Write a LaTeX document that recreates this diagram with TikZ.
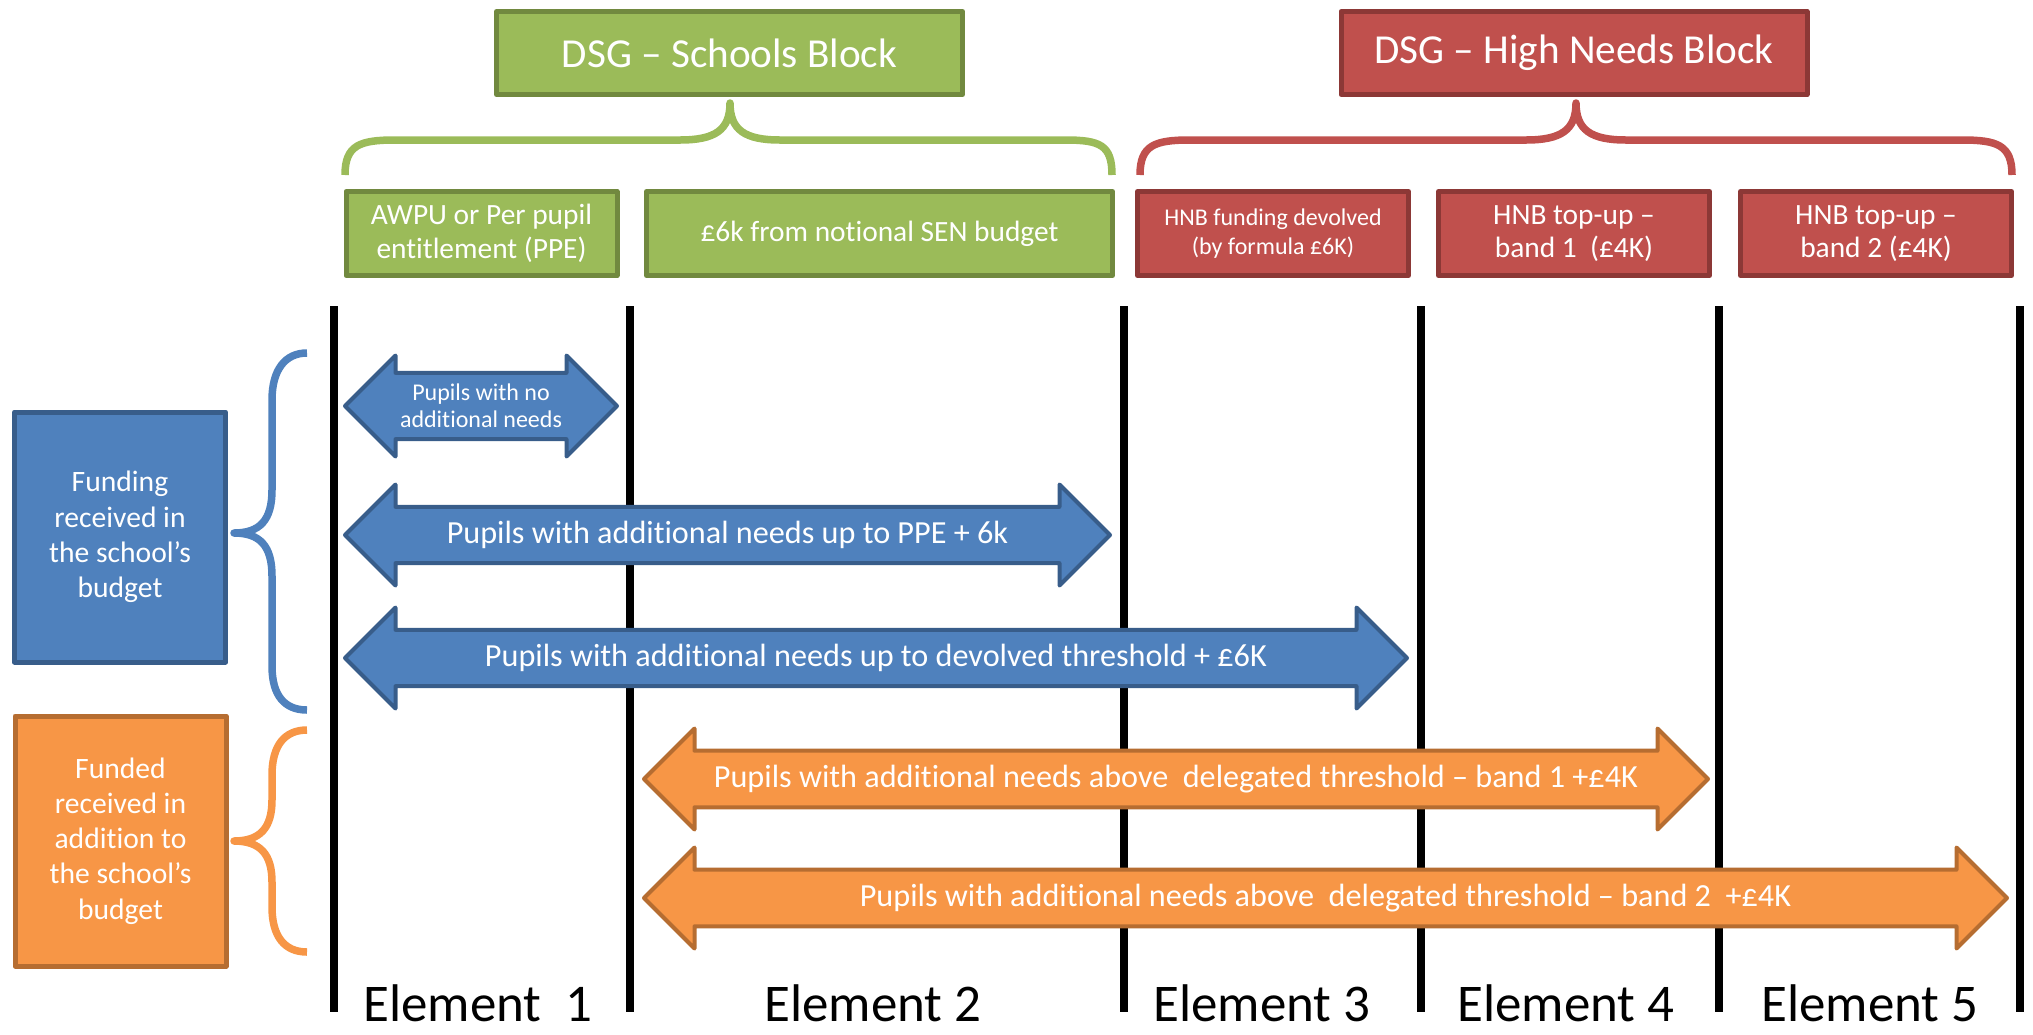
\documentclass[tikz,border=0pt]{standalone}
\usepackage{fontspec}
\setmainfont{Carlito}[Ligatures=CommonOff]
\usetikzlibrary{shapes.arrows}

\definecolor{sbfill}{HTML}{9BBB59}
\definecolor{sbline}{HTML}{71893F}
\definecolor{hnfill}{HTML}{C0504D}
\definecolor{hnline}{HTML}{8C3836}
\definecolor{blfill}{HTML}{4F81BD}
\definecolor{blline}{HTML}{385D8A}
\definecolor{orfill}{HTML}{F79646}
\definecolor{orline}{HTML}{B66D31}

\begin{document}
\begin{tikzpicture}[
    x = 0.5pt, % one unit = one pixel
    y = -0.5pt, % y runs downwards
    line join = round
    ]

    \tikzset{
    block/.style = {draw, line width = 2.5pt, text = white, align = center, inner sep = 0pt},
    title/.style = {block, minimum width = 233pt, minimum height = 41.5pt, font = \fontsize{20.6}{24}\selectfont},
    part/.style = {block, minimum width = 135.5pt, minimum height = 42pt, font = \fontsize{14.7}{16.8}\selectfont},
    side/.style = {block, minimum width = 105.5pt, minimum height = 125pt, font = \fontsize{14.8}{17.6}\selectfont},
    school/.style = {fill = sbfill, draw = sbline},
    high/.style = {fill = hnfill, draw = hnline},
    twoway/.style = {double arrow, double arrow tip angle = 90, double arrow head extend = 6.25pt,
        minimum width = 50.5pt, inner sep = 0pt, line width = 2pt, text = white, align = center,
        font = \fontsize{16.1}{19}\selectfont},
    inbudget/.style = {twoway, fill = blfill, draw = blline},
    extra/.style = {twoway, fill = orfill, draw = orline},
    brace/.style = {line width = 3.75pt},
    divider/.style = {line width = 4pt},
    element/.style = {anchor = base, inner sep = 0pt, text depth = 0pt, font = \fontsize{26.5}{30}\selectfont}
    }

    \useasboundingbox (0,0) rectangle (2033,1034);

    % braces
    \draw[brace, sbfill] (345,175) .. controls (345,145) and (360,140) .. (395,140) -- (680,140)
        .. controls (715,140) and (730,130) .. (730,103) .. controls (730,130) and (745,140) .. (780,140)
        -- (1065,140) .. controls (1100,140) and (1112,145) .. (1112,175);
    \draw[brace, hnfill] (1140,175) .. controls (1140,145) and (1155,140) .. (1190,140) -- (1526,140)
        .. controls (1561,140) and (1576,130) .. (1576,103) .. controls (1576,130) and (1591,140) .. (1626,140)
        -- (1962,140) .. controls (1997,140) and (2012,145) .. (2012,175);
    \draw[brace, blfill] (307,353) .. controls (285,353) and (272,370) .. (272,400) -- (272,490)
        .. controls (272,520) and (260,533) .. (234,533) .. controls (260,533) and (272,546) .. (272,576)
        -- (272,666) .. controls (272,696) and (285,710) .. (307,710);
    \draw[brace, orfill] (307,730) .. controls (285,730) and (272,745) .. (272,775) -- (272,800)
        .. controls (272,828) and (260,841) .. (234,841) .. controls (260,841) and (272,854) .. (272,882)
        -- (272,907) .. controls (272,937) and (285,952) .. (307,952);

    % blocks
    \node[title, school] (sb) at (729.5,53) {DSG – Schools Block};
    \node[title, high] (hnb) at (1574,53) {DSG – High Needs Block};

    \node[part, school] (awpu) at (481.5,233.5) {AWPU or Per pupil\\entitlement (PPE)};
    \node[part, school, minimum width = 233pt] (sen) at (879.5,233.5) {£6k from notional SEN budget};
    \node[part, high, font = \fontsize{12}{14.5}\selectfont] (devolved) at (1273,233.5) {HNB funding devolved\\(by formula £6K)};
    \node[part, high] (band1) at (1574,233.5) {HNB top-up –\\band 1\ \ (£4K)};
    \node[part, high] (band2) at (1876,233.5) {HNB top-up –\\band 2 (£4K)};

    \node[side, fill = blfill, draw = blline] (inside) at (120,537) {Funding\\received in\\the school’s\\budget};
    \node[side, fill = orfill, draw = orline] (outside) at (120.5,841) {Funded\\received in\\addition to\\the school’s\\budget};

    % element dividers
    \foreach \x in {334,630,1124,1421,1719,2020}
        \draw[divider] (\x,306) -- (\x,1012);

    % pupil arrows
    \node[inbudget, minimum height = 136pt, font = \fontsize{12}{13.5}\selectfont] (none) at (481,406) {Pupils with no\\additional needs};
    \node[inbudget, minimum height = 382.5pt] (upto) at (727.5,535) {Pupils with additional needs up to PPE + 6k};
    \node[inbudget, minimum height = 531pt] (threshold) at (876,658) {Pupils with additional needs up to devolved threshold + £6K};
    \node[extra, minimum height = 532pt] (above1) at (1176,779) {Pupils with additional needs above\ \ delegated threshold – band 1 +£4K};
    \node[extra, minimum height = 681.5pt] (above2) at (1325.5,898) {Pupils with additional needs above\ \ delegated threshold – band 2\ \ +£4K};

    % element labels
    \node[element] (e1) at (478,1021) {Element\ \ 1};
    \node[element] (e2) at (873,1021) {Element 2};
    \node[element] (e3) at (1262,1021) {Element 3};
    \node[element] (e4) at (1566,1021) {Element 4};
    \node[element] (e5) at (1870,1021) {Element 5};
\end{tikzpicture}
\end{document}
